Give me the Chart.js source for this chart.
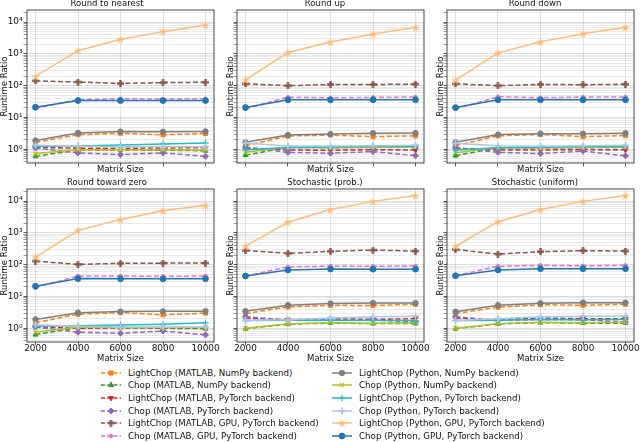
<!DOCTYPE html>
<html>
<head>
<meta charset="utf-8">
<script src="https://cdn.jsdelivr.net/npm/chart.js@4.4.0/dist/chart.umd.min.js"></script>
<style>
  html, body { margin: 0; padding: 0; background: #fff; overflow: hidden; }
  body { width: 640px; height: 442px; position: relative; font-family: 'DejaVu Sans', sans-serif; }
  canvas.panel { position: absolute; }
  .item { position: absolute; height: 12px; display: flex; align-items: center; white-space: nowrap;
          font-size: 8.7px; color: #111; }
  .item canvas { margin-right: 6px; }
</style>
</head>
<body>
<script>
// x positions (matrix size) and axis ticks
const matrixSizes = [2000, 4000, 6000, 8000, 10000];
const xTicks = [2000, 4000, 6000, 8000, 10000];
const yPowers = [-1, 0, 1, 2, 3, 4];
const yLabelPowers = [0, 1, 2, 3, 4];

const panelTitles = ['Round to nearest', 'Round up', 'Round down',
  'Round toward zero', 'Stochastic (prob.)', 'Stochastic (uniform)'];

const seriesNames = [
  'LightChop (MATLAB, NumPy backend)',
  'Chop (MATLAB, NumPy backend)',
  'LightChop (MATLAB, PyTorch backend)',
  'Chop (MATLAB, PyTorch backend)',
  'LightChop (MATLAB, GPU, PyTorch backend)',
  'Chop (MATLAB, GPU, PyTorch backend)',
  'LightChop (Python, NumPy backend)',
  'Chop (Python, NumPy backend)',
  'LightChop (Python, PyTorch backend)',
  'Chop (Python, PyTorch backend)',
  'LightChop (Python, GPU, PyTorch backend)',
  'Chop (Python, GPU, PyTorch backend)',
];

// runtime ratios, one row per series (same order as seriesNames)
const nearestRatios = [
  [1.65, 2.87, 3.2, 2.85, 3.15],
  [0.6, 0.95, 0.95, 0.93, 0.9],
  [1.15, 1.08, 1.07, 1.1, 1.12],
  [1.1, 0.77, 0.68, 0.77, 0.6],
  [142, 130, 118, 125, 128],
  [19.5, 37, 39, 38, 39],
  [1.9, 3.25, 3.6, 3.55, 3.65],
  [0.73, 0.97, 0.97, 0.97, 0.95],
  [1.23, 1.27, 1.36, 1.47, 1.57],
  [1.35, 1.25, 1.2, 1.2, 1.2],
  [195, 1260, 2900, 5000, 8100],
  [21, 34, 34, 34, 34],
];
const upRatios = [
  [1.3, 2.6, 2.8, 2.5, 2.65],
  [0.65, 1.15, 1.12, 1.15, 1.18],
  [1.1, 0.95, 0.93, 0.97, 0.95],
  [1.15, 0.8, 0.75, 0.85, 0.63],
  [115, 100, 109, 109, 112],
  [18.8, 43.7, 41.6, 43, 44],
  [1.65, 2.8, 3.0, 3.2, 3.25],
  [0.8, 1.15, 1.12, 1.15, 1.18],
  [0.97, 1.13, 1.18, 1.23, 1.25],
  [1.57, 1.27, 1.27, 1.3, 1.35],
  [152, 1100, 2380, 4250, 6900],
  [20.6, 36, 36, 36, 36],
];
const downRatios = [
  [1.3, 2.65, 2.9, 2.5, 2.7],
  [0.63, 1.12, 1.1, 1.13, 1.15],
  [1.08, 0.95, 0.95, 0.98, 0.96],
  [1.12, 0.8, 0.73, 0.88, 0.62],
  [115, 100, 110, 107, 111],
  [18.5, 45, 42, 44, 44],
  [1.65, 2.9, 3.1, 3.1, 3.2],
  [0.78, 1.13, 1.1, 1.15, 1.17],
  [0.95, 1.12, 1.15, 1.2, 1.23],
  [1.55, 1.28, 1.25, 1.3, 1.33],
  [150, 1080, 2400, 4300, 6900],
  [20.5, 36, 36, 36, 36],
];
const towardZeroRatios = [
  [1.5, 2.77, 3.1, 2.65, 3.0],
  [0.63, 1.05, 1.03, 1.0, 0.97],
  [1.12, 1.0, 1.04, 1.03, 1.05],
  [1.1, 0.75, 0.7, 0.82, 0.62],
  [130, 102, 110, 112, 112],
  [19, 44, 44, 43, 44],
  [1.9, 3.1, 3.35, 3.4, 3.45],
  [0.75, 1.1, 1.05, 1.05, 1.05],
  [1.16, 1.2, 1.27, 1.33, 1.48],
  [1.3, 1.15, 1.1, 1.1, 1.1],
  [174, 1200, 2650, 5000, 7450],
  [21, 36.5, 36, 36, 36],
];
const stochProbRatios = [
  [2.9, 4.7, 5.3, 5.2, 5.7],
  [0.97, 1.35, 1.45, 1.4, 1.4],
  [2.1, 1.85, 2.0, 1.9, 2.0],
  [2.3, 1.8, 1.85, 1.8, 1.58],
  [282, 227, 263, 288, 268],
  [44, 85, 91, 89, 92],
  [3.45, 5.3, 6.0, 6.2, 6.2],
  [1.0, 1.38, 1.5, 1.45, 1.5],
  [1.75, 1.8, 1.8, 1.8, 1.75],
  [1.8, 1.85, 2.1, 2.3, 2.4],
  [385, 2170, 5450, 9800, 15000],
  [44, 68, 73, 72, 72],
];
const stochUniformRatios = [
  [2.9, 4.6, 5.5, 5.3, 5.7],
  [0.97, 1.38, 1.5, 1.45, 1.45],
  [2.1, 1.85, 2.1, 2.0, 2.0],
  [2.3, 1.75, 1.9, 1.85, 1.58],
  [300, 215, 257, 276, 268],
  [45, 89, 96, 92, 96],
  [3.3, 5.3, 6.1, 6.4, 6.4],
  [1.0, 1.4, 1.55, 1.5, 1.55],
  [1.75, 1.8, 1.9, 1.85, 1.9],
  [1.75, 2.0, 2.3, 2.4, 2.45],
  [380, 2250, 5450, 9800, 15000],
  [45, 68, 75, 75, 75],
];

const panelData = [nearestRatios, upRatios, downRatios,
  towardZeroRatios, stochProbRatios, stochUniformRatios];

// ---- styling ----
function markerCanvas(kind, color) {
  const c = document.createElement('canvas');
  const s = kind === 'star' ? 9 : 7;
  c.width = s; c.height = s;
  const g = c.getContext('2d');
  g.fillStyle = color;
  if (kind === 'star') {
    g.beginPath();
    for (let i = 0; i < 10; i++) {
      const r = i % 2 === 0 ? s / 2 : s / 5;
      const a = -Math.PI / 2 + i * Math.PI / 5;
      g.lineTo(s / 2 + r * Math.cos(a), s / 2 + 0.5 + r * Math.sin(a));
    }
    g.closePath();
    g.fill();
  } else {
    // filled plus ("P")
    g.fillRect(0, 2.3, s, 2.4);
    g.fillRect(2.3, 0, 2.4, s);
  }
  return c;
}

const seriesStyles = [
  { color: '#ff7f0e', dash: true, marker: 'rect', r: 2.9, bw: 1 },
  { color: '#2ca02c', dash: true, marker: 'triangle', r: 2.9, bw: 1 },
  { color: '#d62728', dash: true, marker: 'triangle', rot: 180, r: 2.9, bw: 1 },
  { color: '#9467bd', dash: true, marker: 'rectRot', r: 3, bw: 1 },
  { color: '#8c564b', dash: true, marker: 'P', r: 3.5, bw: 1 },
  { color: '#e377c2', dash: true, marker: 'circle', r: 1.8, bw: 1 },
  { color: '#7f7f7f', dash: false, marker: 'circle', r: 2.7, bw: 1 },
  { color: '#bcbd22', dash: false, marker: 'crossRot', r: 3, bw: 1.3 },
  { color: '#17becf', dash: false, marker: 'cross', r: 3.2, bw: 1.2 },
  { color: '#aec7e8', dash: false, marker: 'cross', r: 3.5, bw: 1.8 },
  { color: '#ffbb78', dash: false, marker: 'star', r: 4.5, bw: 1 },
  { color: '#1f77b4', dash: false, marker: 'circle', r: 2.9, bw: 1 },
];
seriesStyles.forEach((s) => {
  s.pointStyle = (s.marker === 'star' || s.marker === 'P') ? markerCanvas(s.marker, s.color) : s.marker;
});

const yMin = 0.37;
const yMax = 24000;
const supDigits = { '-': '⁻', '0': '⁰', '1': '¹', '2': '²', '3': '³', '4': '⁴' };

function isPow10(v) {
  const l = Math.log10(v);
  return Math.abs(l - Math.round(l)) < 1e-9;
}

const yTickValues = [];
yPowers.forEach((p) => {
  for (let m = 1; m <= 9; m++) {
    const v = m * Math.pow(10, p);
    if (v >= yMin && v <= yMax) yTickValues.push(v);
  }
});

// frame around the plot area (matplotlib spines)
const framePlugin = {
  id: 'frame',
  afterDatasetsDraw(chart) {
    const a = chart.chartArea;
    const ctx = chart.ctx;
    ctx.save();
    ctx.strokeStyle = '#333';
    ctx.lineWidth = 0.9;
    ctx.setLineDash([]);
    ctx.strokeRect(a.left, a.top, a.right - a.left, a.bottom - a.top);
    ctx.restore();
  },
};

Chart.defaults.font.family = "'DejaVu Sans', sans-serif";
Chart.defaults.color = '#111';

// layout (pixels)
const colLeft = [27, 237, 447];
const colAxisW = [27, 11, 11];
const plotW = 187;
const rowTop = [10, 189];
const plotH = 153;
const titleH = 11;
const xAxisH = [12, 22];
const rightPad = 8;

function makePanel(idx) {
  const col = idx % 3;
  const row = Math.floor(idx / 3);
  const canvas = document.createElement('canvas');
  canvas.className = 'panel';
  const w = colAxisW[col] + plotW + rightPad;
  const h = titleH + plotH + xAxisH[row];
  canvas.width = w;
  canvas.height = h;
  canvas.style.left = (colLeft[col] - colAxisW[col]) + 'px';
  canvas.style.top = (rowTop[row] - titleH) + 'px';
  canvas.style.width = w + 'px';
  canvas.style.height = h + 'px';
  document.body.appendChild(canvas);

  const n = seriesNames.length;
  const datasets = panelData[idx].map((vals, i) => {
    const s = seriesStyles[i];
    return {
      label: seriesNames[i],
      data: vals.map((v, j) => ({ x: matrixSizes[j], y: v })),
      borderColor: s.color,
      backgroundColor: s.color,
      borderWidth: 1.5,
      borderDash: s.dash ? [5, 2.5] : [],
      pointStyle: s.pointStyle,
      pointRadius: s.r,
      pointRotation: s.rot || 0,
      pointBorderWidth: s.bw,
      pointBackgroundColor: s.color,
      pointBorderColor: s.color,
      tension: 0,
      order: n - 1 - i,
    };
  });

  new Chart(canvas, {
    type: 'line',
    data: { datasets },
    plugins: [framePlugin],
    options: {
      responsive: false,
      animation: false,
      layout: { padding: { left: 0, right: rightPad, top: 0, bottom: 0 } },
      plugins: {
        legend: { display: false },
        tooltip: { enabled: false },
        title: {
          display: true,
          text: panelTitles[idx],
          color: '#111',
          font: { size: 8.5, weight: 'normal', lineHeight: '10px' },
          padding: { top: 0, bottom: 1 },
        },
      },
      scales: {
        x: {
          type: 'linear',
          min: 1600,
          max: 10400,
          afterBuildTicks: (scale) => { scale.ticks = xTicks.map((v) => ({ value: v })); },
          afterFit: (scale) => { scale.height = xAxisH[row]; },
          ticks: {
            autoSkip: false,
            maxRotation: 0,
            padding: -2.5,
            color: '#111',
            font: { size: 8.9 },
            callback: (v) => (row === 1 ? String(v) : ''),
          },
          grid: {
            color: 'rgba(0,0,0,0.13)',
            lineWidth: 0.8,
            tickLength: 3.5,
            tickColor: '#333',
          },
          border: { display: false },
          title: {
            display: true,
            text: 'Matrix Size',
            color: '#111',
            font: { size: 8.5, lineHeight: '10px' },
            padding: 0,
          },
        },
        y: {
          type: 'logarithmic',
          min: yMin,
          max: yMax,
          afterBuildTicks: (scale) => { scale.ticks = yTickValues.map((v) => ({ value: v })); },
          afterFit: (scale) => { scale.width = colAxisW[col]; },
          ticks: {
            autoSkip: false,
            padding: 1,
            color: '#111',
            font: { size: 8.9 },
            callback: (v) => {
              if (col !== 0 || !isPow10(v)) return '';
              const p = Math.round(Math.log10(v));
              if (!yLabelPowers.includes(p)) return '';
              return '10' + String(p).split('').map((c) => supDigits[c]).join('');
            },
          },
          grid: {
            color: (ctx) => (ctx.tick && isPow10(ctx.tick.value) ? 'rgba(0,0,0,0.17)' : 'rgba(0,0,0,0.105)'),
            lineWidth: 0.8,
            tickLength: 3.5,
            tickColor: (ctx) => (ctx.tick && isPow10(ctx.tick.value) ? '#333' : '#888'),
          },
          border: { display: false },
          title: {
            display: true,
            text: 'Runtime Ratio',
            color: '#111',
            font: { size: 8.5, lineHeight: '10px' },
            padding: 0,
          },
        },
      },
    },
  });
}

for (let i = 0; i < 6; i++) makePanel(i);

// ---- legend (two columns, matplotlib style handles) ----
const legendCols = [{ handle: 100 }, { handle: 331 }];
const legendTop = 372.7;
const legendStep = 12.66;

function drawHandle(s) {
  const c = document.createElement('canvas');
  c.width = 22; c.height = 12;
  const g = c.getContext('2d');
  g.strokeStyle = s.color;
  g.fillStyle = s.color;
  g.lineWidth = 1.5;
  g.setLineDash(s.dash ? [4, 2.2] : []);
  g.beginPath();
  g.moveTo(1, 6);
  g.lineTo(21, 6);
  g.stroke();
  g.setLineDash([]);
  g.lineWidth = s.bw;
  Chart.helpers.drawPoint(g, {
    pointStyle: s.pointStyle, radius: s.r, rotation: s.rot || 0, borderWidth: s.bw,
  }, 11, 6);
  return c;
}

seriesNames.forEach((name, i) => {
  const colIdx = i < 6 ? 0 : 1;
  const rowIdx = i % 6;
  const item = document.createElement('div');
  item.className = 'item';
  item.style.left = legendCols[colIdx].handle + 'px';
  item.style.top = (legendTop + rowIdx * legendStep - 6) + 'px';
  item.appendChild(drawHandle(seriesStyles[i]));
  const span = document.createElement('span');
  span.textContent = name;
  item.appendChild(span);
  document.body.appendChild(item);
});
</script>
</body>
</html>
